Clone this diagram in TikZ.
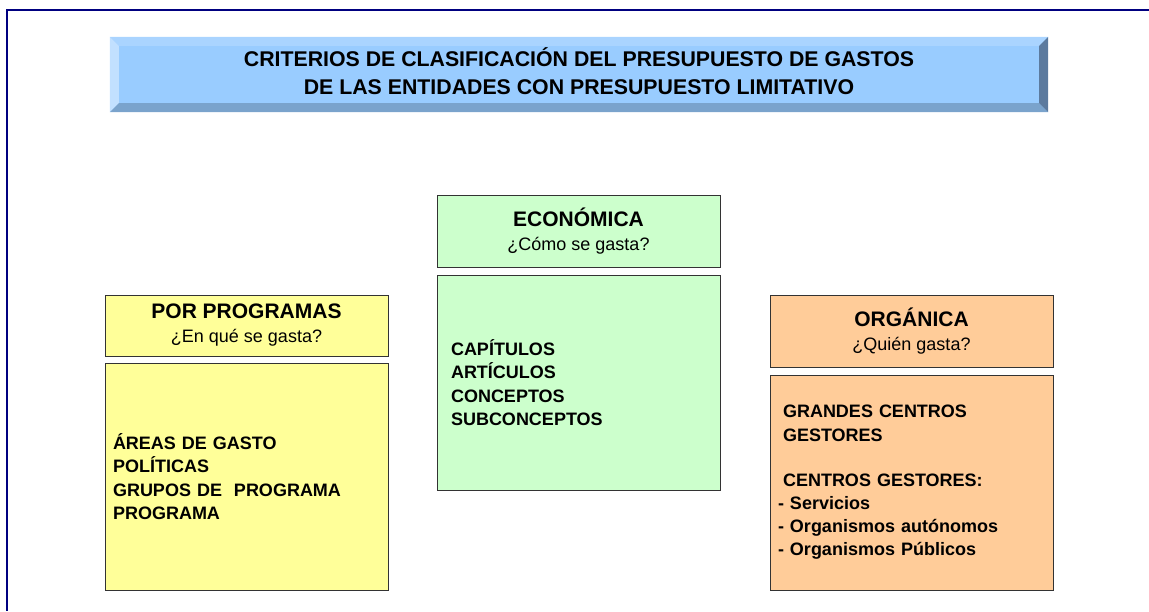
\documentclass[tikz,border=0pt]{standalone}
\usepackage{fontspec}
\setmainfont{Liberation Sans}
\usetikzlibrary{positioning,calc,shadows}
\definecolor{frameBlue}{HTML}{000080}
\definecolor{bannerBlue}{HTML}{99CCFF}
\definecolor{bevelTop}{HTML}{AAD4FF}
\definecolor{bevelLeft}{HTML}{C2E0FF}
\definecolor{bevelBottom}{HTML}{7AA3CC}
\definecolor{bevelRight}{HTML}{5C7A9E}
\definecolor{progYellow}{HTML}{FFFF99}
\definecolor{econGreen}{HTML}{CCFFCC}
\definecolor{orgOrange}{HTML}{FFCC99}
\definecolor{edgeGray}{HTML}{333333}

\begin{document}
\begin{tikzpicture}[x=1pt,y=-1pt,
  box/.style={draw=edgeGray,line width=0.8pt,minimum width=283pt,
    drop shadow={shadow xshift=1.2pt,shadow yshift=-1.2pt,fill=black!30,opacity=1}},
  head/.style={box,align=center,inner sep=0pt,font=\fontsize{18}{24}\selectfont},
  body/.style={box,align=left,text width=#1,
    font=\fontsize{18}{23.3}\selectfont\bfseries}]

  \useasboundingbox (0,0) rectangle (1149,611);
  \draw[frameBlue,line width=2pt] (1149,10) -- (6.5,10) -- (6.5,611);

  % title banner
  \node[fill=bannerBlue,minimum width=938pt,minimum height=75pt,inner sep=0pt] (title) at (579,74.5) {};
  \coordinate (ia) at ($(title.north west)+(9,9)$);
  \coordinate (ib) at ($(title.north east)+(-9,9)$);
  \coordinate (ic) at ($(title.south east)+(-9,-9)$);
  \coordinate (id) at ($(title.south west)+(9,-9)$);
  \fill[bevelTop] (title.north west) -- (title.north east) -- (ib) -- (ia) -- cycle;
  \fill[bevelLeft] (title.north west) -- (ia) -- (id) -- (title.south west) -- cycle;
  \fill[bevelBottom] (title.south west) -- (id) -- (ic) -- (title.south east) -- cycle;
  \fill[bevelRight] (title.north east) -- (title.south east) -- (ic) -- (ib) -- cycle;
  \node[align=center,inner sep=0pt,yshift=3pt,font=\fontsize{21.3}{28}\selectfont\bfseries]
        (titletext) at (title.center) {CRITERIOS DE CLASIFICACIÓN DEL PRESUPUESTO DE GASTOS\\DE LAS ENTIDADES CON PRESUPUESTO LIMITATIVO};

  % por programas
  \node[head,fill=progYellow,minimum height=61pt] (proghead) at (246.5,325.5)
    {{\fontsize{21}{24}\selectfont\bfseries POR PROGRAMAS}\\¿En qué se gasta?};
  \node[body=267pt,fill=progYellow,minimum height=227pt,inner xsep=8pt] (progbody) at (246.5,476.5)
    {ÁREAS DE GASTO\\POLÍTICAS\\GRUPOS DE\ \ PROGRAMA\\PROGRAMA};

  % economica
  \node[head,fill=econGreen,minimum height=72pt] (econhead) at (578.5,231)
    {{\fontsize{21}{24}\selectfont\bfseries ECONÓMICA}\\¿Cómo se gasta?};
  \node[body=255pt,fill=econGreen,minimum height=215pt,inner xsep=14pt] (econbody) at (578.5,382.5)
    {CAPÍTULOS\\ARTÍCULOS\\CONCEPTOS\\SUBCONCEPTOS};

  % organica
  \node[head,fill=orgOrange,minimum height=72pt] (orghead) at (911.5,331)
    {{\fontsize{21}{24}\selectfont\bfseries ORGÁNICA}\\¿Quién gasta?};
  \node[body=267pt,fill=orgOrange,minimum height=215pt,inner xsep=8pt] (orgbody) at (911.5,482.5)
    {\hspace{5pt}GRANDES CENTROS\\\hspace{5pt}GESTORES\\[21.7pt]\hspace{5pt}CENTROS GESTORES:\\- Servicios\\- Organismos autónomos\\- Organismos Públicos};
\end{tikzpicture}
\end{document}
